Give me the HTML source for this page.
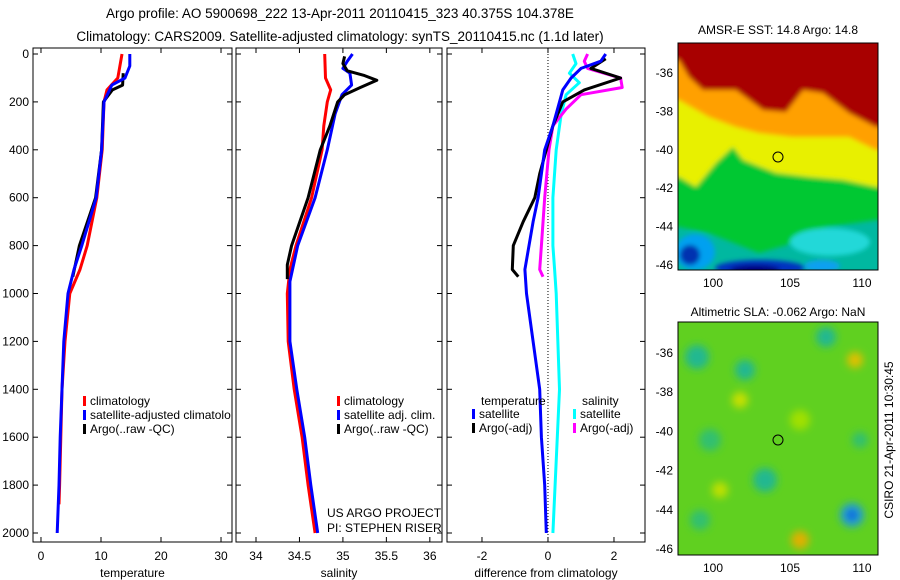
<!DOCTYPE html>
<html><head><meta charset="utf-8"><style>
body{margin:0;background:#fff;}
svg{display:block;font-family:"Liberation Sans",sans-serif;}
</style></head><body>
<svg id="c" width="900" height="580" viewBox="0 0 900 580">
<defs>
<filter id="bl" x="-20%" y="-20%" width="140%" height="140%"><feGaussianBlur stdDeviation="2.5"/></filter>
<filter id="bl2"><feGaussianBlur stdDeviation="4"/></filter>
<clipPath id="m1c"><rect x="678" y="43" width="200" height="227"/></clipPath>
<clipPath id="m2c"><rect x="678" y="322" width="200" height="233"/></clipPath>
</defs>
<text x="340" y="18" font-size="13.5" text-anchor="middle">Argo profile: AO 5900698_222 13-Apr-2011 20110415_323 40.375S 104.378E</text>
<text x="340" y="41" font-size="13.5" text-anchor="middle">Climatology: CARS2009. Satellite-adjusted climatology: synTS_20110415.nc (1.1d later)</text>

<g>
<text x="778" y="34" font-size="12" text-anchor="middle">AMSR-E SST: 14.8  Argo: 14.8</text>
<g clip-path="url(#m1c)">
<rect x="670" y="35" width="220" height="245" fill="#00b8a0"/>
<g filter="url(#bl)">
<path d="M670 35 L890 35 L890 220 L876 220 L826 227 L793 243 L759 253 L709 233 L679 227 L670 227Z" fill="#00c830"/>
<path d="M670 35 L890 35 L890 187 L876 187 L843 180 L809 177 L776 173 L743 160 L733 147 L716 163 L696 187 L679 177 L670 177Z" fill="#e8f000"/>
<path d="M670 35 L890 35 L890 150 L876 150 L849 137 L793 137 L759 133 L736 127 L709 117 L679 100 L670 100Z" fill="#ffa000"/>
<path d="M670 35 L890 35 L890 127 L876 127 L849 113 L823 93 L803 90 L786 112 L763 110 L736 90 L703 90 L689 77 L679 60 L670 60Z" fill="#a80000"/>
<ellipse cx="830" cy="242" rx="40" ry="14" fill="#20d8d8"/>
<ellipse cx="695" cy="252" rx="20" ry="18" fill="#00a0f0"/>
<ellipse cx="690" cy="255" rx="10" ry="10" fill="#0030b0"/>
<ellipse cx="760" cy="268" rx="45" ry="8" fill="#0030c0"/>
<ellipse cx="755" cy="270" rx="25" ry="5" fill="#000080"/>
<ellipse cx="822" cy="266" rx="18" ry="6" fill="#10a0f0"/>
</g>
</g>
<rect x="678" y="43" width="200" height="227" fill="none" stroke="#000"/>
<circle cx="778" cy="157" r="5" fill="none" stroke="#000"/>
</g>

<g>
<text x="778" y="316" font-size="12" text-anchor="middle">Altimetric SLA: -0.062  Argo: NaN</text>
<g clip-path="url(#m2c)">
<rect x="678" y="322" width="200" height="233" fill="#60d020"/>
<g filter="url(#bl2)">
<circle cx="697" cy="357" r="12" fill="#20b890"/>
<circle cx="745" cy="370" r="10" fill="#20b890"/>
<circle cx="826" cy="337" r="10" fill="#20b890"/>
<circle cx="710" cy="440" r="11" fill="#30c070"/>
<circle cx="765" cy="480" r="12" fill="#20b890"/>
<circle cx="852" cy="515" r="12" fill="#20a0d0"/>
<circle cx="852" cy="515" r="5" fill="#0050e0"/>
<circle cx="700" cy="520" r="10" fill="#30c070"/>
<circle cx="800" cy="420" r="10" fill="#a0e000"/>
<circle cx="855" cy="360" r="8" fill="#e0c000"/>
<circle cx="740" cy="400" r="8" fill="#c8e000"/>
<circle cx="800" cy="540" r="9" fill="#e0b000"/>
<circle cx="720" cy="490" r="8" fill="#c0e000"/>
<circle cx="860" cy="440" r="8" fill="#30c070"/>
</g>
</g>
<rect x="678" y="322" width="200" height="233" fill="none" stroke="#000"/>
<circle cx="778" cy="440" r="5" fill="none" stroke="#000"/>
</g>
<text transform="translate(893,440) rotate(-90)" font-size="12" text-anchor="middle">CSIRO 21-Apr-2011 10:30:45</text>
<text x="327" y="517" font-size="12">US ARGO PROJECT</text>
<text x="327" y="532" font-size="12">PI: STEPHEN RISER</text>
<g id="plots"></g>
</svg>
<script>
// depth axis values
const depthTicks=[0,200,400,600,800,1000,1200,1400,1600,1800,2000];
// temperature panel
const tTicks=[0,10,20,30];
const tClimD=[0,100,150,200,400,600,800,900,1000,1200,1400,1600,1800,1880];
const tClimV=[13.5,12.8,11,10.5,10.2,9.3,7.7,6.5,4.8,4,3.5,3.3,3.1,3.0];
const tSatD=[0,50,100,130,200,400,600,800,900,1000,1200,1400,1600,1800,2000];
const tSatV=[14.8,14.8,14,11.8,10.5,10.1,9.2,6.8,5.5,4.5,3.8,3.5,3.2,3.0,2.7];
const tArgD=[80,130,150,200,400,600,800,930];
const tArgV=[13.7,13.6,11.9,10.4,10.1,9.1,6.4,5.3];
// salinity panel
const sTicks=[34,34.5,35,35.5,36];
const sClimD=[0,100,150,200,300,400,600,800,900,1000,1200,1400,1600,1800,2000];
const sClimV=[34.79,34.8,34.86,34.82,34.78,34.76,34.64,34.46,34.39,34.36,34.37,34.44,34.53,34.6,34.68];
const sSatD=[0,30,60,80,130,170,250,400,600,800,950,1200,1400,1600,1800,2000];
const sSatV=[35.11,35.05,35.0,35.08,35.1,34.99,34.91,34.82,34.68,34.48,34.39,34.39,34.47,34.56,34.63,34.71];
const sArgD=[10,40,70,90,110,140,170,200,300,400,600,800,880,940];
const sArgV=[35.02,35.0,35.05,35.25,35.39,35.2,35.02,34.94,34.85,34.74,34.6,34.41,34.36,34.36];
// difference panel
const dTicks=[-2,0,2];
const dTSatD=[0,30,60,100,150,200,300,400,500,600,700,900,1000,1200,1400,1600,1800,2000];
const dTSatV=[1.75,1.6,1.0,0.7,0.45,0.35,0.15,-0.1,-0.2,-0.3,-0.45,-0.7,-0.65,-0.45,-0.25,-0.2,-0.1,-0.05];
const dTArgD=[20,60,100,150,200,300,500,600,700,800,900,930];
const dTArgV=[1.75,1.3,2.2,1.1,0.45,0.15,-0.25,-0.4,-0.75,-1.05,-1.08,-0.9];
const dSSatD=[0,40,80,120,170,250,400,600,800,900,1000,1400,2000];
const dSSatV=[0.75,0.85,0.65,0.95,0.55,0.4,0.25,0.15,0.15,0.2,0.25,0.35,0.15];
const dSArgD=[0,30,60,100,140,170,230,300,400,600,800,900,930];
const dSArgV=[1.2,1.1,1.2,2.2,2.25,1.0,0.55,0.15,0.03,-0.1,-0.2,-0.25,-0.15];

const NS='http://www.w3.org/2000/svg';
const root=document.getElementById('plots');
function mk(tag,attrs,parent){const e=document.createElementNS(NS,tag);for(const k in attrs)e.setAttribute(k,attrs[k]);(parent||root).appendChild(e);return e;}
const yTop=48,yBot=542;
function yS(d){return 54+d*0.2395;}
function panel(name,x0,x1,v0,v1,ticks,label,showY){
  const g=mk('g',{});
  
  
  const xs=v=>x0+(v-v0)/(v1-v0)*(x1-x0);
  const fr=mk('rect',{x:x0,y:yTop,width:x1-x0,height:yBot-yTop,fill:'none',stroke:'#000'},g);
  
  
  ticks.forEach(t=>{const x=xs(t);
    mk('line',{x1:x,x2:x,y1:yTop,y2:yTop+5,stroke:'#000'},g);
    mk('line',{x1:x,x2:x,y1:yBot,y2:yBot-5,stroke:'#000'},g);
    const tl=mk('text',{x:x,y:yBot+18,'font-size':12,'text-anchor':'middle'},g);
    
    
    tl.textContent=String(t);});
  depthTicks.forEach(d=>{const y=yS(d);
    mk('line',{x1:x0,x2:x0+5,y1:y,y2:y,stroke:'#000'},g);
    mk('line',{x1:x1,x2:x1-5,y1:y,y2:y,stroke:'#000'},g);
    if(showY){const tl=mk('text',{x:x0-4,y:y+4,'font-size':12,'text-anchor':'end'},g);
      
      
      tl.textContent=String(d);}});
  const xl=mk('text',{x:(x0+x1)/2,y:yBot+35,'font-size':12,'text-anchor':'middle'},g);
  
  
  xl.textContent=label;
  return {g,xs};
}
function line(p,name,D,V,color,w){
  const pts=D.map((d,i)=>p.xs(V[i]).toFixed(1)+','+yS(d).toFixed(1)).join(' ');
  const l=mk('polyline',{points:pts,fill:'none',stroke:color,'stroke-width':w||3,'stroke-linejoin':'round'},p.g);
  
  
}
function legend(g,x,y,items){
  items.forEach((it,i)=>{
    const r=mk('rect',{x:x,y:y+i*14-9,width:3,height:10,fill:it[1]},g);
    
    
    const t=mk('text',{x:x+7,y:y+i*14,'font-size':12},g);
    
    
    t.textContent=it[0];});
}
const p1=panel('temperature-panel',33,232,-1.33,31.83,tTicks,'temperature',true);
line(p1,'temp-climatology-line',tClimD,tClimV,'#ff0000');
line(p1,'temp-argo-line',tArgD,tArgV,'#000');
line(p1,'temp-satellite-line',tSatD,tSatV,'#0000ff');
legend(p1.g,83,405,[['climatology','#ff0000'],['satellite-adjusted climatolo','#0000ff'],['Argo(..raw -QC)','#000']]);

const p2=panel('salinity-panel',236,442,33.77,36.14,sTicks,'salinity',false);
line(p2,'sal-climatology-line',sClimD,sClimV,'#ff0000');
line(p2,'sal-satellite-line',sSatD,sSatV,'#0000ff');
line(p2,'sal-argo-line',sArgD,sArgV,'#000');
legend(p2.g,337,405,[['climatology','#ff0000'],['satellite adj. clim.','#0000ff'],['Argo(..raw -QC)','#000']]);

const p3=panel('difference-panel',447,645,-3.06,2.94,dTicks,'difference from climatology',false);
const zx=p3.xs(0);
const zl=mk('line',{x1:zx,x2:zx,y1:yTop,y2:yBot,stroke:'#000','stroke-dasharray':'1,2'},p3.g);


line(p3,'diff-sal-satellite-line',dSSatD,dSSatV,'#00ffff');
line(p3,'diff-sal-argo-line',dSArgD,dSArgV,'#ff00ff');
line(p3,'diff-temp-argo-line',dTArgD,dTArgV,'#000');
line(p3,'diff-temp-satellite-line',dTSatD,dTSatV,'#0000ff');
const h1=mk('text',{x:481,y:405,'font-size':12},p3.g);


h1.textContent='temperature';
const h2=mk('text',{x:582,y:405,'font-size':12},p3.g);


h2.textContent='salinity';
legend(p3.g,472,418,[['satellite','#0000ff'],['Argo(-adj)','#000']]);
legend(p3.g,573,418,[['satellite','#00ffff'],['Argo(-adj)','#ff00ff']]);

function mapAxes(name,x0,y0,w,h,lat0y,latStep){
  const g=mk('g',{});
  
  
  for(let i=0;i<6;i++){const lat=-36-2*i;const y=lat0y+i*latStep;
    const t=mk('text',{x:x0-5,y:y+4,'font-size':12,'text-anchor':'end'},g);
    
    
    t.textContent=String(lat);}
  [[100,713],[105,790],[110,862]].forEach(a=>{
    const t=mk('text',{x:a[1],y:y0+h+17,'font-size':12,'text-anchor':'middle'},g);
    
    
    t.textContent=String(a[0]);});
}
mapAxes('sst-map-axes',678,43,200,227,73,38.4);
mapAxes('sla-map-axes',678,322,200,233,353,39.2);
</script>
</body></html>
